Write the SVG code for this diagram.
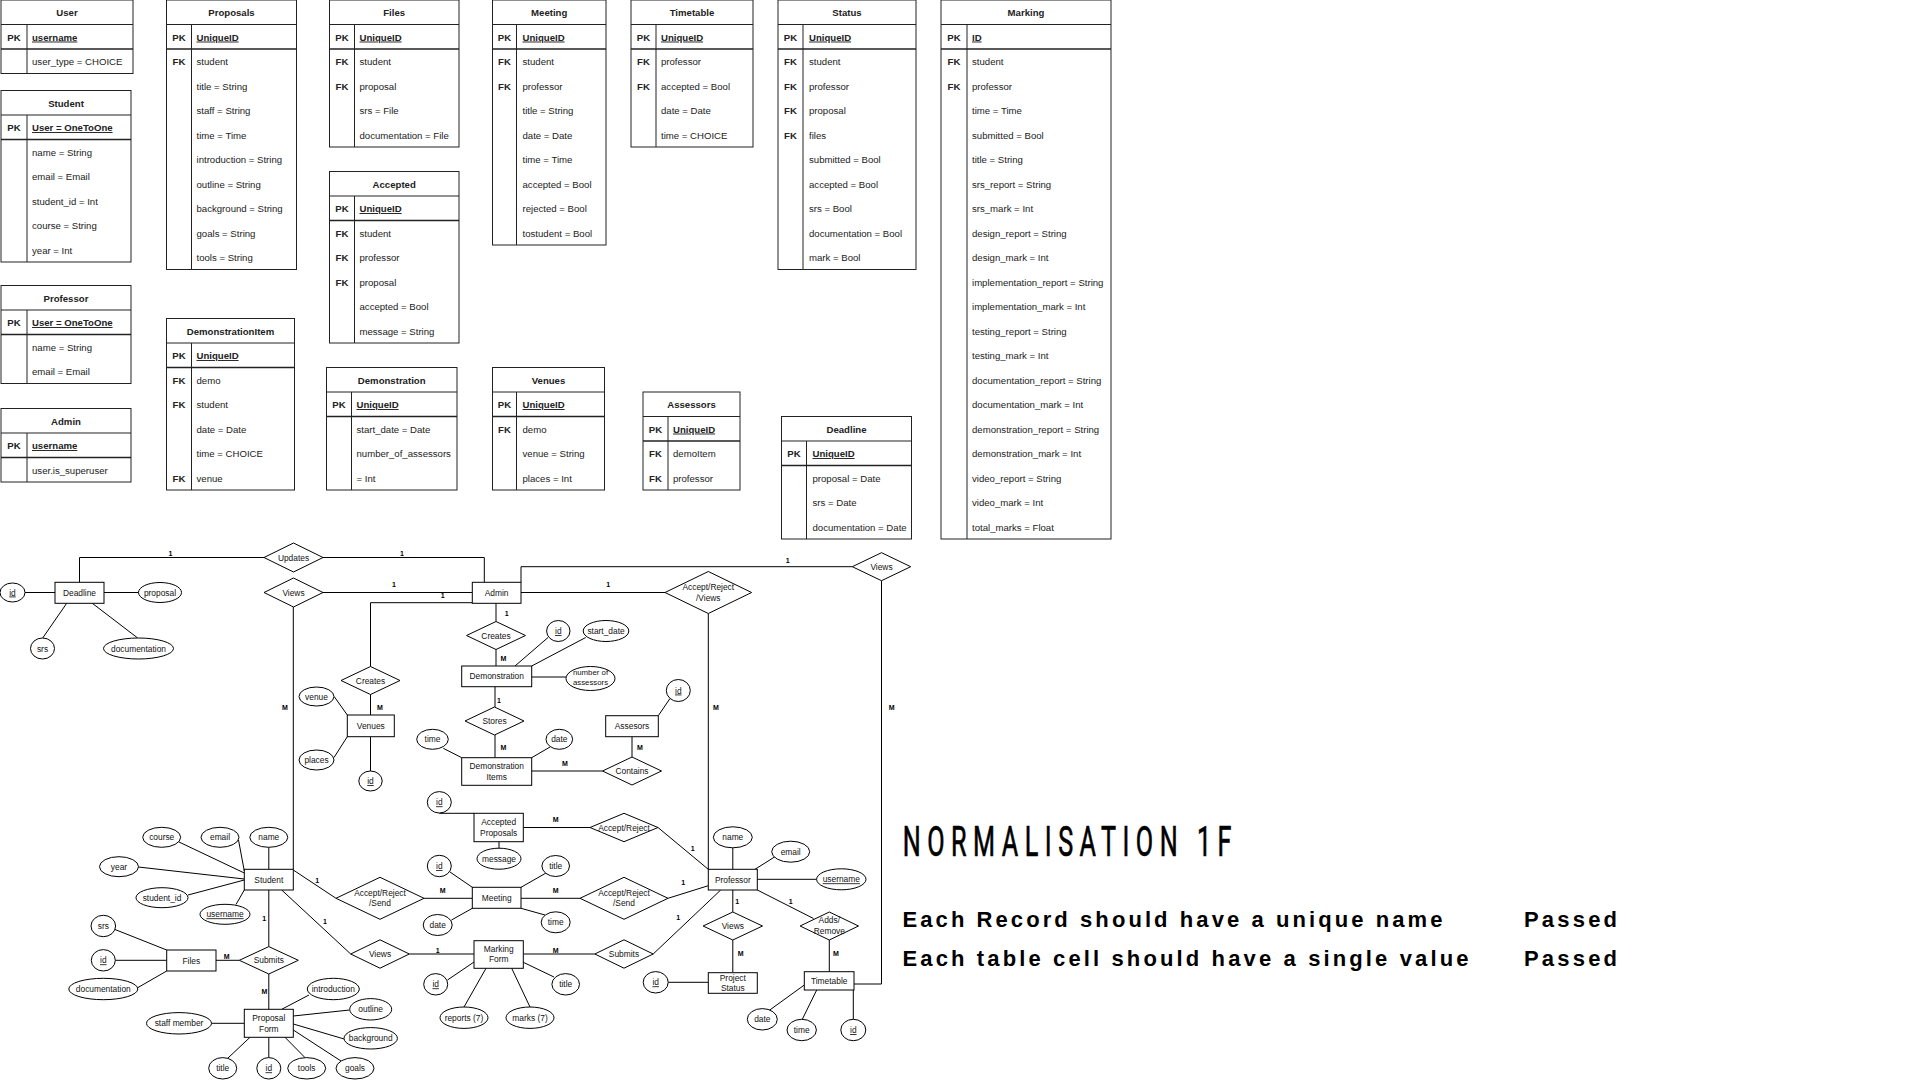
<svg xmlns="http://www.w3.org/2000/svg" width="1920" height="1080" viewBox="0 0 1920 1080">
<style>
.bg{fill:#fff}
.tb{fill:#fff;stroke:#222;stroke-width:1}
.tl{fill:none;stroke:#222;stroke-width:1}
.tl2{fill:none;stroke:#222;stroke-width:1.6}
text{font-family:"Liberation Sans",Arial,sans-serif;fill:#222}
.th{font-size:9.6px;font-weight:bold;text-anchor:middle}
.tk{font-size:9.6px;font-weight:bold;text-anchor:middle}
.tp{font-size:9.6px;font-weight:bold;text-decoration:underline}
.ta{font-size:9.6px}
.bx{fill:#fff;stroke:#000;stroke-width:1}
.e{font-size:8.4px;text-anchor:middle;fill:#111}
.es{font-size:7.8px}
.u{text-decoration:underline}
.n{font-size:7px;font-weight:bold;text-anchor:middle;fill:#000}
.c{fill:none;stroke:#000;stroke-width:1}
.h1{font-family:Roboto,"Liberation Sans",sans-serif;font-size:42px;fill:#000;stroke:#000;stroke-width:0.7}
.h2{font-size:22px;font-weight:bold;fill:#000}
</style>
<rect class="bg" width="1920" height="1080"/>

<!-- ================= TABLES ================= -->
<g id="t-user" transform="translate(1,0)">
<rect class="tb" width="132" height="73.5"/>
<path class="tl" d="M0 24.5H132M26 24.5V73.5"/><path class="tl2" d="M0 49H132"/>
<text class="th" x="66" y="16">User</text>
<text class="tk" x="13" y="40.5">PK</text><text class="tp" x="31" y="40.5">username</text>
<text class="ta" x="31" y="65">user_type = CHOICE</text>
</g>

<g id="t-student" transform="translate(1,90.5)">
<rect class="tb" width="130" height="171.5"/>
<path class="tl" d="M0 24.5H130M26 24.5V171.5"/><path class="tl2" d="M0 49H130"/>
<text class="th" x="65" y="16">Student</text>
<text class="tk" x="13" y="40.5">PK</text><text class="tp" x="31" y="40.5">User = OneToOne</text>
<text class="ta" x="31" y="65">name = String</text>
<text class="ta" x="31" y="89.5">email = Email</text>
<text class="ta" x="31" y="114">student_id = Int</text>
<text class="ta" x="31" y="138.5">course = String</text>
<text class="ta" x="31" y="163">year = Int</text>
</g>

<g id="t-professor" transform="translate(1,285.5)">
<rect class="tb" width="130" height="98"/>
<path class="tl" d="M0 24.5H130M26 24.5V98"/><path class="tl2" d="M0 49H130"/>
<text class="th" x="65" y="16">Professor</text>
<text class="tk" x="13" y="40.5">PK</text><text class="tp" x="31" y="40.5">User = OneToOne</text>
<text class="ta" x="31" y="65">name = String</text>
<text class="ta" x="31" y="89.5">email = Email</text>
</g>

<g id="t-admin" transform="translate(1,408.5)">
<rect class="tb" width="130" height="73.5"/>
<path class="tl" d="M0 24.5H130M26 24.5V73.5"/><path class="tl2" d="M0 49H130"/>
<text class="th" x="65" y="16">Admin</text>
<text class="tk" x="13" y="40.5">PK</text><text class="tp" x="31" y="40.5">username</text>
<text class="ta" x="31" y="65">user.is_superuser</text>
</g>

<g id="t-proposals" transform="translate(166.5,0)">
<rect class="tb" width="130" height="269.5"/>
<path class="tl" d="M0 24.5H130M25 24.5V269.5"/><path class="tl2" d="M0 49H130"/>
<text class="th" x="65" y="16">Proposals</text>
<text class="tk" x="12.5" y="40.5">PK</text><text class="tp" x="30" y="40.5">UniqueID</text>
<text class="tk" x="12.5" y="65">FK</text><text class="ta" x="30" y="65">student</text>
<text class="ta" x="30" y="89.5">title = String</text>
<text class="ta" x="30" y="114">staff = String</text>
<text class="ta" x="30" y="138.5">time = Time</text>
<text class="ta" x="30" y="163">introduction = String</text>
<text class="ta" x="30" y="187.5">outline = String</text>
<text class="ta" x="30" y="212">background = String</text>
<text class="ta" x="30" y="236.5">goals = String</text>
<text class="ta" x="30" y="261">tools = String</text>
</g>

<g id="t-demonstrationitem" transform="translate(166.5,318.5)">
<rect class="tb" width="128" height="171.5"/>
<path class="tl" d="M0 24.5H128M25 24.5V171.5"/><path class="tl2" d="M0 49H128"/>
<text class="th" x="64" y="16">DemonstrationItem</text>
<text class="tk" x="12.5" y="40.5">PK</text><text class="tp" x="30" y="40.5">UniqueID</text>
<text class="tk" x="12.5" y="65">FK</text><text class="ta" x="30" y="65">demo</text>
<text class="tk" x="12.5" y="89.5">FK</text><text class="ta" x="30" y="89.5">student</text>
<text class="ta" x="30" y="114">date = Date</text>
<text class="ta" x="30" y="138.5">time = CHOICE</text>
<text class="tk" x="12.5" y="163">FK</text><text class="ta" x="30" y="163">venue</text>
</g>

<g id="t-files" transform="translate(329.5,0)">
<rect class="tb" width="129.5" height="147"/>
<path class="tl" d="M0 24.5H129.5M25 24.5V147"/><path class="tl2" d="M0 49H129.5"/>
<text class="th" x="64.7" y="16">Files</text>
<text class="tk" x="12.5" y="40.5">PK</text><text class="tp" x="30" y="40.5">UniqueID</text>
<text class="tk" x="12.5" y="65">FK</text><text class="ta" x="30" y="65">student</text>
<text class="tk" x="12.5" y="89.5">FK</text><text class="ta" x="30" y="89.5">proposal</text>
<text class="ta" x="30" y="114">srs = File</text>
<text class="ta" x="30" y="138.5">documentation = File</text>
</g>

<g id="t-accepted" transform="translate(329.5,171.5)">
<rect class="tb" width="129.5" height="171.5"/>
<path class="tl" d="M0 24.5H129.5M25 24.5V171.5"/><path class="tl2" d="M0 49H129.5"/>
<text class="th" x="64.7" y="16">Accepted</text>
<text class="tk" x="12.5" y="40.5">PK</text><text class="tp" x="30" y="40.5">UniqueID</text>
<text class="tk" x="12.5" y="65">FK</text><text class="ta" x="30" y="65">student</text>
<text class="tk" x="12.5" y="89.5">FK</text><text class="ta" x="30" y="89.5">professor</text>
<text class="tk" x="12.5" y="114">FK</text><text class="ta" x="30" y="114">proposal</text>
<text class="ta" x="30" y="138.5">accepted = Bool</text>
<text class="ta" x="30" y="163">message = String</text>
</g>

<g id="t-demonstration" transform="translate(326.5,367.5)">
<rect class="tb" width="130.5" height="122.5"/>
<path class="tl" d="M0 24.5H130.5M25 24.5V122.5"/><path class="tl2" d="M0 49H130.5"/>
<text class="th" x="65.2" y="16">Demonstration</text>
<text class="tk" x="12.5" y="40.5">PK</text><text class="tp" x="30" y="40.5">UniqueID</text>
<text class="ta" x="30" y="65">start_date = Date</text>
<text class="ta" x="30" y="89.5">number_of_assessors</text>
<text class="ta" x="30" y="114">= Int</text>
</g>

<g id="t-meeting" transform="translate(492.5,0)">
<rect class="tb" width="113.5" height="245"/>
<path class="tl" d="M0 24.5H113.5M24 24.5V245"/><path class="tl2" d="M0 49H113.5"/>
<text class="th" x="56.7" y="16">Meeting</text>
<text class="tk" x="12" y="40.5">PK</text><text class="tp" x="30" y="40.5">UniqueID</text>
<text class="tk" x="12" y="65">FK</text><text class="ta" x="30" y="65">student</text>
<text class="tk" x="12" y="89.5">FK</text><text class="ta" x="30" y="89.5">professor</text>
<text class="ta" x="30" y="114">title = String</text>
<text class="ta" x="30" y="138.5">date = Date</text>
<text class="ta" x="30" y="163">time = Time</text>
<text class="ta" x="30" y="187.5">accepted = Bool</text>
<text class="ta" x="30" y="212">rejected = Bool</text>
<text class="ta" x="30" y="236.5">tostudent = Bool</text>
</g>

<g id="t-venues" transform="translate(492.5,367.5)">
<rect class="tb" width="112" height="122.5"/>
<path class="tl" d="M0 24.5H112M24 24.5V122.5"/><path class="tl2" d="M0 49H112"/>
<text class="th" x="56" y="16">Venues</text>
<text class="tk" x="12" y="40.5">PK</text><text class="tp" x="30" y="40.5">UniqueID</text>
<text class="tk" x="12" y="65">FK</text><text class="ta" x="30" y="65">demo</text>
<text class="ta" x="30" y="89.5">venue = String</text>
<text class="ta" x="30" y="114">places = Int</text>
</g>

<g id="t-timetable" transform="translate(631,0)">
<rect class="tb" width="122" height="147"/>
<path class="tl" d="M0 24.5H122M25 24.5V147"/><path class="tl2" d="M0 49H122"/>
<text class="th" x="61" y="16">Timetable</text>
<text class="tk" x="12.5" y="40.5">PK</text><text class="tp" x="30" y="40.5">UniqueID</text>
<text class="tk" x="12.5" y="65">FK</text><text class="ta" x="30" y="65">professor</text>
<text class="tk" x="12.5" y="89.5">FK</text><text class="ta" x="30" y="89.5">accepted = Bool</text>
<text class="ta" x="30" y="114">date = Date</text>
<text class="ta" x="30" y="138.5">time = CHOICE</text>
</g>

<g id="t-assessors" transform="translate(643,392)">
<rect class="tb" width="97" height="98"/>
<path class="tl" d="M0 24.5H97M25 24.5V98"/><path class="tl2" d="M0 49H97"/>
<text class="th" x="48.5" y="16">Assessors</text>
<text class="tk" x="12.5" y="40.5">PK</text><text class="tp" x="30" y="40.5">UniqueID</text>
<text class="tk" x="12.5" y="65">FK</text><text class="ta" x="30" y="65">demoItem</text>
<text class="tk" x="12.5" y="89.5">FK</text><text class="ta" x="30" y="89.5">professor</text>
</g>

<g id="t-status" transform="translate(778,0)">
<rect class="tb" width="138" height="269.5"/>
<path class="tl" d="M0 24.5H138M25 24.5V269.5"/><path class="tl2" d="M0 49H138"/>
<text class="th" x="69" y="16">Status</text>
<text class="tk" x="12.5" y="40.5">PK</text><text class="tp" x="31" y="40.5">UniqueID</text>
<text class="tk" x="12.5" y="65">FK</text><text class="ta" x="31" y="65">student</text>
<text class="tk" x="12.5" y="89.5">FK</text><text class="ta" x="31" y="89.5">professor</text>
<text class="tk" x="12.5" y="114">FK</text><text class="ta" x="31" y="114">proposal</text>
<text class="tk" x="12.5" y="138.5">FK</text><text class="ta" x="31" y="138.5">files</text>
<text class="ta" x="31" y="163">submitted = Bool</text>
<text class="ta" x="31" y="187.5">accepted = Bool</text>
<text class="ta" x="31" y="212">srs = Bool</text>
<text class="ta" x="31" y="236.5">documentation = Bool</text>
<text class="ta" x="31" y="261">mark = Bool</text>
</g>

<g id="t-deadline" transform="translate(781.5,416.5)">
<rect class="tb" width="130" height="122.5"/>
<path class="tl" d="M0 24.5H130M25 24.5V122.5"/><path class="tl2" d="M0 49H130"/>
<text class="th" x="65" y="16">Deadline</text>
<text class="tk" x="12.5" y="40.5">PK</text><text class="tp" x="31" y="40.5">UniqueID</text>
<text class="ta" x="31" y="65">proposal = Date</text>
<text class="ta" x="31" y="89.5">srs = Date</text>
<text class="ta" x="31" y="114">documentation = Date</text>
</g>

<g id="t-marking" transform="translate(941,0)">
<rect class="tb" width="170" height="539"/>
<path class="tl" d="M0 24.5H170M26 24.5V539"/><path class="tl2" d="M0 49H170"/>
<text class="th" x="85" y="16">Marking</text>
<text class="tk" x="13" y="40.5">PK</text><text class="tp" x="31" y="40.5">ID</text>
<text class="tk" x="13" y="65">FK</text><text class="ta" x="31" y="65">student</text>
<text class="tk" x="13" y="89.5">FK</text><text class="ta" x="31" y="89.5">professor</text>
<text class="ta" x="31" y="114">time = Time</text>
<text class="ta" x="31" y="138.5">submitted = Bool</text>
<text class="ta" x="31" y="163">title = String</text>
<text class="ta" x="31" y="187.5">srs_report = String</text>
<text class="ta" x="31" y="212">srs_mark = Int</text>
<text class="ta" x="31" y="236.5">design_report = String</text>
<text class="ta" x="31" y="261">design_mark = Int</text>
<text class="ta" x="31" y="285.5">implementation_report = String</text>
<text class="ta" x="31" y="310">implementation_mark = Int</text>
<text class="ta" x="31" y="334.5">testing_report = String</text>
<text class="ta" x="31" y="359">testing_mark = Int</text>
<text class="ta" x="31" y="383.5">documentation_report = String</text>
<text class="ta" x="31" y="408">documentation_mark = Int</text>
<text class="ta" x="31" y="432.5">demonstration_report = String</text>
<text class="ta" x="31" y="457">demonstration_mark = Int</text>
<text class="ta" x="31" y="481.5">video_report = String</text>
<text class="ta" x="31" y="506">video_mark = Int</text>
<text class="ta" x="31" y="530.5">total_marks = Float</text>
</g>

<!-- ================= ER CONNECTORS ================= -->
<g id="connectors" class="c">
<polyline points="79.5,582.3 79.5,557.5 264,557.5"/>
<polyline points="323,557.5 484.3,557.5 484.3,582.3"/>
<line x1="323" y1="592.5" x2="472.3" y2="592.5"/>
<polyline points="472.3,602.7 370.5,602.7 370.5,666.5"/>
<line x1="293.3" y1="607" x2="293.3" y2="869.3"/>
<line x1="370.5" y1="694.5" x2="370.5" y2="715"/>
<line x1="334.3" y1="696.7" x2="347.3" y2="715"/>
<line x1="334" y1="757.5" x2="347.3" y2="736.7"/>
<line x1="370.5" y1="736.7" x2="370.5" y2="771"/>
<line x1="25" y1="592.5" x2="55" y2="592.5"/>
<line x1="104" y1="592.5" x2="138.5" y2="592.5"/>
<line x1="66.7" y1="603.3" x2="42.7" y2="638"/>
<line x1="92.3" y1="603.3" x2="137.7" y2="638"/>
<line x1="496" y1="603.3" x2="496" y2="621.5"/>
<line x1="496" y1="649.5" x2="496" y2="666"/>
<line x1="515" y1="666" x2="548" y2="637.5"/>
<line x1="531.7" y1="666" x2="585.7" y2="637.5"/>
<line x1="531.7" y1="677" x2="566" y2="677"/>
<line x1="495" y1="686.7" x2="495" y2="707"/>
<line x1="495" y1="735" x2="495" y2="757.7"/>
<line x1="443.3" y1="748.3" x2="461.7" y2="757.7"/>
<line x1="531.7" y1="757.7" x2="550" y2="747"/>
<line x1="531.7" y1="771" x2="602.5" y2="771"/>
<line x1="632" y1="736.7" x2="632" y2="757"/>
<line x1="658.3" y1="715.7" x2="670" y2="698.5"/>
<line x1="521" y1="592.5" x2="665" y2="592.5"/>
<line x1="708.3" y1="613.5" x2="708.3" y2="869.3"/>
<polyline points="521,582.3 521,566.7 852.3,566.7"/>
<polyline points="881.5,580.7 881.5,984 854,984"/>
<line x1="439.3" y1="813.3" x2="474" y2="813.3"/>
<line x1="499" y1="841.7" x2="499" y2="848.2"/>
<line x1="523.3" y1="827.5" x2="590" y2="827.5"/>
<line x1="658" y1="827.5" x2="708.3" y2="869.3"/>
<line x1="732.8" y1="847.8" x2="732.8" y2="869.3"/>
<line x1="775" y1="856.7" x2="755" y2="869.3"/>
<line x1="757.3" y1="879.3" x2="816.7" y2="879.3"/>
<line x1="179" y1="842" x2="244.3" y2="873"/>
<line x1="238.5" y1="840" x2="244.3" y2="871"/>
<line x1="268.8" y1="847.3" x2="268.8" y2="869.3"/>
<line x1="138.3" y1="867" x2="244.3" y2="879"/>
<line x1="188" y1="895" x2="244.3" y2="880"/>
<line x1="236" y1="904.5" x2="244.3" y2="890"/>
<line x1="293.3" y1="870" x2="336" y2="898.3"/>
<line x1="281.7" y1="890" x2="350.7" y2="954"/>
<line x1="424" y1="898.3" x2="472.3" y2="898.3"/>
<line x1="409.3" y1="954" x2="474" y2="954"/>
<line x1="268.8" y1="890" x2="268.8" y2="946.6"/>
<line x1="216" y1="960.3" x2="239.3" y2="960.3"/>
<line x1="268.8" y1="974" x2="268.8" y2="1009.3"/>
<line x1="115" y1="929.5" x2="166.7" y2="950"/>
<line x1="115.3" y1="960.3" x2="166.7" y2="960.3"/>
<line x1="137.7" y1="987.7" x2="166.7" y2="971"/>
<line x1="281.7" y1="1009.3" x2="309" y2="995"/>
<line x1="293.3" y1="1016" x2="349.5" y2="1010"/>
<line x1="293.3" y1="1024" x2="344.2" y2="1039"/>
<line x1="293.3" y1="1030" x2="341" y2="1061"/>
<line x1="285" y1="1037.3" x2="305" y2="1057.6"/>
<line x1="268.8" y1="1037.3" x2="268.8" y2="1057.6"/>
<line x1="250" y1="1037.3" x2="228" y2="1058"/>
<line x1="211.5" y1="1023.3" x2="244.3" y2="1023.3"/>
<line x1="450" y1="872" x2="472.3" y2="887.3"/>
<line x1="451.5" y1="920" x2="472.3" y2="908.3"/>
<line x1="521" y1="887.3" x2="546" y2="873"/>
<line x1="521" y1="908.3" x2="545" y2="915"/>
<line x1="521" y1="898.3" x2="580" y2="898.3"/>
<line x1="668" y1="898.3" x2="708.3" y2="885.7"/>
<line x1="523.3" y1="954" x2="594.8" y2="954"/>
<line x1="653.2" y1="954" x2="720.7" y2="890"/>
<line x1="474" y1="962" x2="447.5" y2="980"/>
<line x1="523.3" y1="962.3" x2="554" y2="977"/>
<line x1="486" y1="968.3" x2="464" y2="1007"/>
<line x1="511.7" y1="968.3" x2="530" y2="1007"/>
<line x1="732.8" y1="890" x2="732.8" y2="912"/>
<line x1="732.8" y1="940" x2="732.8" y2="972.7"/>
<line x1="668.2" y1="982.3" x2="708.3" y2="982.3"/>
<line x1="757.3" y1="890" x2="813.5" y2="918.5"/>
<line x1="829.3" y1="940" x2="829.3" y2="971.7"/>
<line x1="804.3" y1="985" x2="767" y2="1012"/>
<line x1="816.7" y1="990" x2="802.3" y2="1019.3"/>
<line x1="853.3" y1="990" x2="853.3" y2="1019.3"/>
</g>

<!-- cardinality labels -->
<g id="cardinalities">
<text class="n" x="170.5" y="555.5">1</text>
<text class="n" x="402" y="555.5">1</text>
<text class="n" x="394" y="586.5">1</text>
<text class="n" x="442.7" y="597.5">1</text>
<text class="n" x="285" y="710.2">M</text>
<text class="n" x="380" y="710.2">M</text>
<text class="n" x="506.7" y="615.8">1</text>
<text class="n" x="503.3" y="660.8">M</text>
<text class="n" x="499" y="702.5">1</text>
<text class="n" x="503.3" y="750.2">M</text>
<text class="n" x="565" y="765.8">M</text>
<text class="n" x="640" y="750.2">M</text>
<text class="n" x="608.3" y="586.8">1</text>
<text class="n" x="716" y="710.2">M</text>
<text class="n" x="787.7" y="563.2">1</text>
<text class="n" x="891.7" y="710.2">M</text>
<text class="n" x="555.7" y="821.8">M</text>
<text class="n" x="692.7" y="850.8">1</text>
<text class="n" x="317.3" y="882.5">1</text>
<text class="n" x="325" y="924.2">1</text>
<text class="n" x="442.7" y="892.5">M</text>
<text class="n" x="437.7" y="952.5">1</text>
<text class="n" x="264.3" y="920.8">1</text>
<text class="n" x="226.7" y="959.2">M</text>
<text class="n" x="264.3" y="994.2">M</text>
<text class="n" x="555.7" y="892.5">M</text>
<text class="n" x="683.3" y="885.2">1</text>
<text class="n" x="555.7" y="952.5">M</text>
<text class="n" x="678.3" y="920.2">1</text>
<text class="n" x="737.3" y="903.5">1</text>
<text class="n" x="740.7" y="955.8">M</text>
<text class="n" x="790.7" y="903.5">1</text>
<text class="n" x="836" y="955.8">M</text>
</g>

<!-- ================= ER ENTITIES ================= -->
<g id="e-deadline"><rect class="bx" x="55" y="582.3" width="49" height="21"/><text class="e" x="79.5" y="595.8">Deadline</text></g>
<g id="e-admin"><rect class="bx" x="472.3" y="582.3" width="48.7" height="21"/><text class="e" x="496.6" y="595.8">Admin</text></g>
<g id="e-venues"><rect class="bx" x="347.3" y="715" width="47" height="21.7"/><text class="e" x="370.8" y="728.8">Venues</text></g>
<g id="e-demonstration"><rect class="bx" x="461.7" y="666" width="70" height="20.7"/><text class="e" x="496.7" y="679.3">Demonstration</text></g>
<g id="e-demoitems"><rect class="bx" x="461.7" y="757.7" width="70" height="27.6"/><text class="e" x="496.7" y="769">Demonstration</text><text class="e" x="496.7" y="779.6">Items</text></g>
<g id="e-assesors"><rect class="bx" x="605.7" y="715.7" width="52.6" height="21"/><text class="e" x="632" y="729.2">Assesors</text></g>
<g id="e-acceptedproposals"><rect class="bx" x="474" y="813.3" width="49.3" height="28.4"/><text class="e" x="498.7" y="825.3">Accepted</text><text class="e" x="498.7" y="835.5">Proposals</text></g>
<g id="e-student"><rect class="bx" x="244.3" y="869.3" width="49" height="20.7"/><text class="e" x="268.8" y="882.6">Student</text></g>
<g id="e-meeting"><rect class="bx" x="472.3" y="887.3" width="48.7" height="21"/><text class="e" x="496.7" y="900.8">Meeting</text></g>
<g id="e-professor"><rect class="bx" x="708.3" y="869.3" width="49" height="20.7"/><text class="e" x="732.8" y="882.6">Professor</text></g>
<g id="e-files"><rect class="bx" x="166.7" y="950" width="49.3" height="21"/><text class="e" x="191.3" y="963.5">Files</text></g>
<g id="e-markingform"><rect class="bx" x="474" y="940.7" width="49.3" height="27.6"/><text class="e" x="498.7" y="952">Marking</text><text class="e" x="498.7" y="962.3">Form</text></g>
<g id="e-projectstatus"><rect class="bx" x="708.3" y="972.7" width="49" height="20.6"/><text class="e" x="732.8" y="980.7">Project</text><text class="e" x="732.8" y="990.8">Status</text></g>
<g id="e-timetable"><rect class="bx" x="804.3" y="971.7" width="49.7" height="18.3"/><text class="e" x="829.2" y="983.6">Timetable</text></g>
<g id="e-proposalform"><rect class="bx" x="244.3" y="1009.3" width="49" height="28"/><text class="e" x="268.8" y="1021.3">Proposal</text><text class="e" x="268.8" y="1031.7">Form</text></g>

<!-- relationships -->
<g id="r-updates"><polygon class="bx" points="264,557.5 293.5,543 323,557.5 293.5,572"/><text class="e" x="293.5" y="560.5">Updates</text></g>
<g id="r-views-admin-student"><polygon class="bx" points="264,592.5 293.5,578 323,592.5 293.5,607"/><text class="e" x="293.5" y="595.5">Views</text></g>
<g id="r-creates-venues"><polygon class="bx" points="341,680.5 370.5,666.5 400,680.5 370.5,694.5"/><text class="e" x="370.5" y="683.5">Creates</text></g>
<g id="r-creates-demo"><polygon class="bx" points="466.5,635.5 496,621.5 525.5,635.5 496,649.5"/><text class="e" x="496" y="638.5">Creates</text></g>
<g id="r-stores"><polygon class="bx" points="465,721 494.5,707 524,721 494.5,735"/><text class="e" x="494.5" y="724">Stores</text></g>
<g id="r-contains"><polygon class="bx" points="602.5,771 632,757 661.5,771 632,785"/><text class="e" x="632" y="774">Contains</text></g>
<g id="r-accept-views"><polygon class="bx" points="665,592.5 708.3,571.5 751.6,592.5 708.3,613.5"/><text class="e" x="708.3" y="590.3">Accept/Reject</text><text class="e" x="708.3" y="600.7">/Views</text></g>
<g id="r-views-admin-timetable"><polygon class="bx" points="852.3,566.7 881.5,552.7 910.7,566.7 881.5,580.7"/><text class="e" x="881.5" y="569.7">Views</text></g>
<g id="r-accept-reject"><polygon class="bx" points="590,827.5 624,813.3 658,827.5 624,841.7"/><text class="e" x="624" y="830.5">Accept/Reject</text></g>
<g id="r-send-student"><polygon class="bx" points="336,898.3 380,877.3 424,898.3 380,919.3"/><text class="e" x="380" y="895.7">Accept/Reject</text><text class="e" x="380" y="906.3">/Send</text></g>
<g id="r-send-professor"><polygon class="bx" points="580,898.3 624,877.3 668,898.3 624,919.3"/><text class="e" x="624" y="895.7">Accept/Reject</text><text class="e" x="624" y="906.3">/Send</text></g>
<g id="r-views-marking"><polygon class="bx" points="350.7,954 380,939.8 409.3,954 380,968.2"/><text class="e" x="380" y="957">Views</text></g>
<g id="r-submits-marking"><polygon class="bx" points="594.8,954 624,939.8 653.2,954 624,968.2"/><text class="e" x="624" y="957">Submits</text></g>
<g id="r-submits-proposal"><polygon class="bx" points="239.3,960.3 268.8,946.6 298.3,960.3 268.8,974"/><text class="e" x="268.8" y="963.3">Submits</text></g>
<g id="r-views-status"><polygon class="bx" points="703.1,926 732.8,912 762.5,926 732.8,940"/><text class="e" x="732.8" y="929">Views</text></g>
<g id="r-adds-remove"><polygon class="bx" points="800.1,926 829.3,912 858.5,926 829.3,940"/><text class="e" x="829.3" y="923">Adds/</text><text class="e" x="829.3" y="934">Remove</text></g>

<!-- attributes -->
<g id="a-deadline-id"><ellipse class="bx" cx="12.5" cy="592.5" rx="12.5" ry="9.5"/><text class="e u" x="12.5" y="595.5">id</text></g>
<g id="a-deadline-proposal"><ellipse class="bx" cx="160" cy="592.5" rx="21.5" ry="10"/><text class="e" x="160" y="595.5">proposal</text></g>
<g id="a-deadline-srs"><ellipse class="bx" cx="42.5" cy="648.5" rx="12" ry="10.5"/><text class="e" x="42.5" y="651.5">srs</text></g>
<g id="a-deadline-doc"><ellipse class="bx" cx="138.5" cy="648.5" rx="35" ry="10.5"/><text class="e" x="138.5" y="651.5">documentation</text></g>
<g id="a-venue"><ellipse class="bx" cx="316.5" cy="696.5" rx="17.5" ry="9.5"/><text class="e" x="316.5" y="699.5">venue</text></g>
<g id="a-places"><ellipse class="bx" cx="316.5" cy="760" rx="17.5" ry="10"/><text class="e" x="316.5" y="763">places</text></g>
<g id="a-venues-id"><ellipse class="bx" cx="370.5" cy="781" rx="11.7" ry="10"/><text class="e u" x="370.5" y="784">id</text></g>
<g id="a-demo-id"><ellipse class="bx" cx="558.3" cy="631" rx="11.7" ry="10.5"/><text class="e u" x="558.3" y="634">id</text></g>
<g id="a-start-date"><ellipse class="bx" cx="606" cy="631" rx="22.8" ry="10.5"/><text class="e" x="606" y="634">start_date</text></g>
<g id="a-num-assessors"><ellipse class="bx" cx="590.5" cy="678.5" rx="24.5" ry="12"/><text class="e es" x="590.5" y="674.9">number of</text><text class="e es" x="590.5" y="684.7">assessors</text></g>
<g id="a-di-time"><ellipse class="bx" cx="432.5" cy="739.3" rx="15.8" ry="10"/><text class="e" x="432.5" y="742.3">time</text></g>
<g id="a-di-date"><ellipse class="bx" cx="559.3" cy="739.3" rx="13.3" ry="10"/><text class="e" x="559.3" y="742.3">date</text></g>
<g id="a-assesors-id"><ellipse class="bx" cx="678.3" cy="690.5" rx="12" ry="11"/><text class="e u" x="678.3" y="693.5">id</text></g>
<g id="a-ap-id"><ellipse class="bx" cx="439.3" cy="802.3" rx="12" ry="10.7"/><text class="e u" x="439.3" y="805.3">id</text></g>
<g id="a-message"><ellipse class="bx" cx="499" cy="858.7" rx="22" ry="10.5"/><text class="e" x="499" y="861.7">message</text></g>
<g id="a-meeting-id"><ellipse class="bx" cx="439.3" cy="866" rx="12" ry="10.7"/><text class="e u" x="439.3" y="869">id</text></g>
<g id="a-meeting-date"><ellipse class="bx" cx="437.7" cy="925" rx="14.5" ry="10.5"/><text class="e" x="437.7" y="928">date</text></g>
<g id="a-meeting-title"><ellipse class="bx" cx="555.7" cy="866" rx="13.8" ry="10.5"/><text class="e" x="555.7" y="869">title</text></g>
<g id="a-meeting-time"><ellipse class="bx" cx="555.7" cy="922.3" rx="14.5" ry="10.5"/><text class="e" x="555.7" y="925.3">time</text></g>
<g id="a-course"><ellipse class="bx" cx="161.7" cy="837.3" rx="19" ry="10"/><text class="e" x="161.7" y="840.3">course</text></g>
<g id="a-student-email"><ellipse class="bx" cx="220" cy="837.3" rx="19" ry="10"/><text class="e" x="220" y="840.3">email</text></g>
<g id="a-student-name"><ellipse class="bx" cx="268.8" cy="837.3" rx="19" ry="10"/><text class="e" x="268.8" y="840.3">name</text></g>
<g id="a-year"><ellipse class="bx" cx="119" cy="866.7" rx="19.5" ry="10"/><text class="e" x="119" y="869.7">year</text></g>
<g id="a-student-id"><ellipse class="bx" cx="162" cy="897.7" rx="26" ry="10"/><text class="e" x="162" y="900.7">student_id</text></g>
<g id="a-student-username"><ellipse class="bx" cx="225" cy="914.3" rx="25" ry="10"/><text class="e u" x="225" y="917.3">username</text></g>
<g id="a-files-srs"><ellipse class="bx" cx="103.3" cy="926" rx="12.3" ry="10.7"/><text class="e" x="103.3" y="929">srs</text></g>
<g id="a-files-id"><ellipse class="bx" cx="103.3" cy="960.3" rx="12" ry="10.7"/><text class="e u" x="103.3" y="963.3">id</text></g>
<g id="a-files-doc"><ellipse class="bx" cx="103.3" cy="989" rx="34.5" ry="10.7"/><text class="e" x="103.3" y="992">documentation</text></g>
<g id="a-introduction"><ellipse class="bx" cx="333.3" cy="989" rx="26" ry="10.7"/><text class="e" x="333.3" y="992">introduction</text></g>
<g id="a-outline"><ellipse class="bx" cx="370.7" cy="1009.3" rx="21" ry="10.7"/><text class="e" x="370.7" y="1012.3">outline</text></g>
<g id="a-background"><ellipse class="bx" cx="370.7" cy="1038.3" rx="26.7" ry="10.7"/><text class="e" x="370.7" y="1041.3">background</text></g>
<g id="a-goals"><ellipse class="bx" cx="355" cy="1068.3" rx="19" ry="10.7"/><text class="e" x="355" y="1071.3">goals</text></g>
<g id="a-tools"><ellipse class="bx" cx="306.7" cy="1068.3" rx="19" ry="10.7"/><text class="e" x="306.7" y="1071.3">tools</text></g>
<g id="a-pf-id"><ellipse class="bx" cx="268.8" cy="1068.3" rx="12" ry="10.7"/><text class="e u" x="268.8" y="1071.3">id</text></g>
<g id="a-pf-title"><ellipse class="bx" cx="222.7" cy="1068.3" rx="14" ry="10.7"/><text class="e" x="222.7" y="1071.3">title</text></g>
<g id="a-staff"><ellipse class="bx" cx="179" cy="1023.3" rx="32.5" ry="10.7"/><text class="e" x="179" y="1026.3">staff member</text></g>
<g id="a-mf-id"><ellipse class="bx" cx="435.7" cy="984.3" rx="12" ry="10.7"/><text class="e u" x="435.7" y="987.3">id</text></g>
<g id="a-mf-title"><ellipse class="bx" cx="565.7" cy="984.3" rx="13.8" ry="10.7"/><text class="e" x="565.7" y="987.3">title</text></g>
<g id="a-reports"><ellipse class="bx" cx="464" cy="1017.7" rx="24" ry="10.7"/><text class="e" x="464" y="1020.7">reports (7)</text></g>
<g id="a-marks"><ellipse class="bx" cx="530" cy="1017.7" rx="24" ry="10.7"/><text class="e" x="530" y="1020.7">marks (7)</text></g>
<g id="a-prof-name"><ellipse class="bx" cx="732.8" cy="837.3" rx="19.5" ry="10.5"/><text class="e" x="732.8" y="840.3">name</text></g>
<g id="a-prof-email"><ellipse class="bx" cx="790.7" cy="851.7" rx="19" ry="10.5"/><text class="e" x="790.7" y="854.7">email</text></g>
<g id="a-prof-username"><ellipse class="bx" cx="841.3" cy="879.3" rx="24.7" ry="10.5"/><text class="e u" x="841.3" y="882.3">username</text></g>
<g id="a-ps-id"><ellipse class="bx" cx="655.7" cy="982.3" rx="12.5" ry="10.7"/><text class="e u" x="655.7" y="985.3">id</text></g>
<g id="a-tt-date"><ellipse class="bx" cx="762.3" cy="1019.3" rx="15" ry="10.7"/><text class="e" x="762.3" y="1022.3">date</text></g>
<g id="a-tt-time"><ellipse class="bx" cx="801.7" cy="1030" rx="14.7" ry="10.7"/><text class="e" x="801.7" y="1033">time</text></g>
<g id="a-tt-id"><ellipse class="bx" cx="853.3" cy="1030" rx="12.5" ry="10.7"/><text class="e u" x="853.3" y="1033">id</text></g>

<!-- ================= NORMALISATION TEXT ================= -->
<g id="normalisation">
<text class="h1" transform="translate(902.7 856) scale(0.6 1)" textLength="548" lengthAdjust="spacing">NORMALISATION 1F</text>
<text class="h2" x="902.5" y="926.7" textLength="540" lengthAdjust="spacing">Each Record should have a unique name</text>
<text class="h2" x="902.5" y="965.5" textLength="566" lengthAdjust="spacing">Each table cell should have a single value</text>
<text class="h2" x="1524" y="926.7" textLength="93" lengthAdjust="spacing">Passed</text>
<text class="h2" x="1524" y="965.5" textLength="93" lengthAdjust="spacing">Passed</text>
</g>
</svg>
